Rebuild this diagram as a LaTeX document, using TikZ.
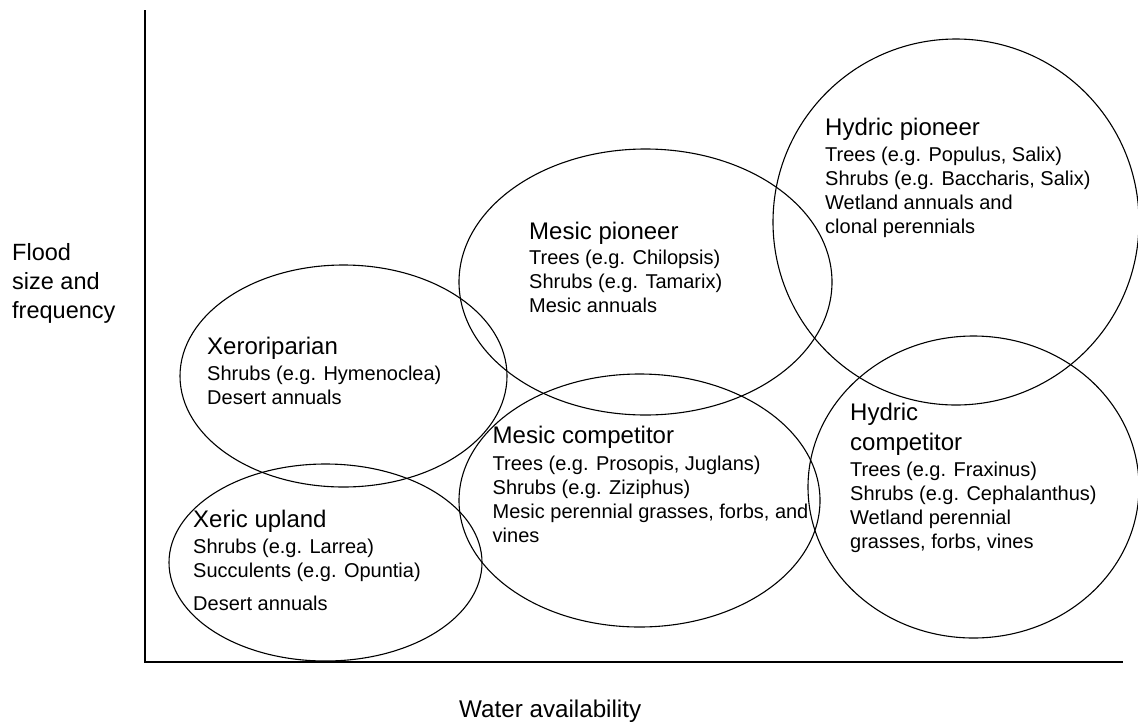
\documentclass[tikz,border=0pt]{standalone}
\usepackage{fontspec}
\setmainfont{Liberation Sans}
\newcommand\ttlfont{\fontsize{24}{24}\selectfont}
\newenvironment{blocktext}{\begin{tabular}[t]{@{}l@{}}}{\end{tabular}}
\tikzset{
  zone/.style={line width=1.1pt},
  axis/.style={line width=1.8pt},
  blk/.style={anchor=base west, inner sep=0pt, font=\fontsize{20}{24}\selectfont},
  axlabel/.style={anchor=base west, inner sep=0pt, font=\fontsize{23.5}{29}\selectfont}
}
\begin{document}
\begin{tikzpicture}[x=1pt,y=-1pt]
\useasboundingbox (0,0) rectangle (1138,724);
% axes
\coordinate (ytop) at (145,10);
\coordinate (origin) at (145,662);
\coordinate (xend) at (1123,662);
\draw[axis] (ytop) -- (origin) -- (xend);
% ellipses
\draw[zone] (343.5,376) ellipse [x radius=163.5, y radius=111];
\draw[zone] (325.5,562.5) ellipse [x radius=156.5, y radius=98.5];
\draw[zone] (645.5,282) ellipse [x radius=186.5, y radius=133];
\draw[zone] (639.5,500.5) ellipse [x radius=180.5, y radius=126.5];
\draw[zone] (956,222) ellipse [x radius=183, y radius=183];
\draw[zone] (973.5,487) ellipse [x radius=165.5, y radius=151];
% texts
\node[blk] (xr) at (207,354) {\begin{blocktext}{\ttlfont Xeroriparian}\\[2.5pt]Shrubs (e.g. Hymenoclea)\\Desert annuals\end{blocktext}};
\node[blk] (xu) at (193,527.5) {\begin{blocktext}{\ttlfont Xeric upland}\\[2pt]Shrubs (e.g. Larrea)\\Succulents (e.g. Opuntia)\\[9pt]Desert annuals\end{blocktext}};
\node[blk] (mp) at (529,239) {\begin{blocktext}{\ttlfont Mesic pioneer}\\[1.5pt]Trees (e.g. Chilopsis)\\Shrubs (e.g. Tamarix)\\Mesic annuals\end{blocktext}};
\node[blk] (mc) at (492.5,443) {\begin{blocktext}{\ttlfont Mesic competitor}\\[3pt]Trees (e.g. Prosopis, Juglans)\\Shrubs (e.g. Ziziphus)\\Mesic perennial grasses, forbs, and\\vines\end{blocktext}};
\node[blk] (hp) at (825,135.5) {\begin{blocktext}{\ttlfont Hydric pioneer}\\[2pt]Trees (e.g. Populus, Salix)\\Shrubs (e.g. Baccharis, Salix)\\Wetland annuals and\\clonal perennials\end{blocktext}};
\node[blk] (hc) at (850,420) {\begin{blocktext}{\ttlfont Hydric}\\[6pt]{\ttlfont competitor}\\[1.5pt]Trees (e.g. Fraxinus)\\Shrubs (e.g. Cephalanthus)\\Wetland perennial\\grasses, forbs, vines\end{blocktext}};
\node[axlabel] (ylab) at (12,260) {\begin{blocktext}Flood\\size and\\frequency\end{blocktext}};
\node[anchor=base west, inner sep=0pt, font=\fontsize{24.2}{29}\selectfont] (xlab) at (459,717) {Water availability};
\end{tikzpicture}
\end{document}
